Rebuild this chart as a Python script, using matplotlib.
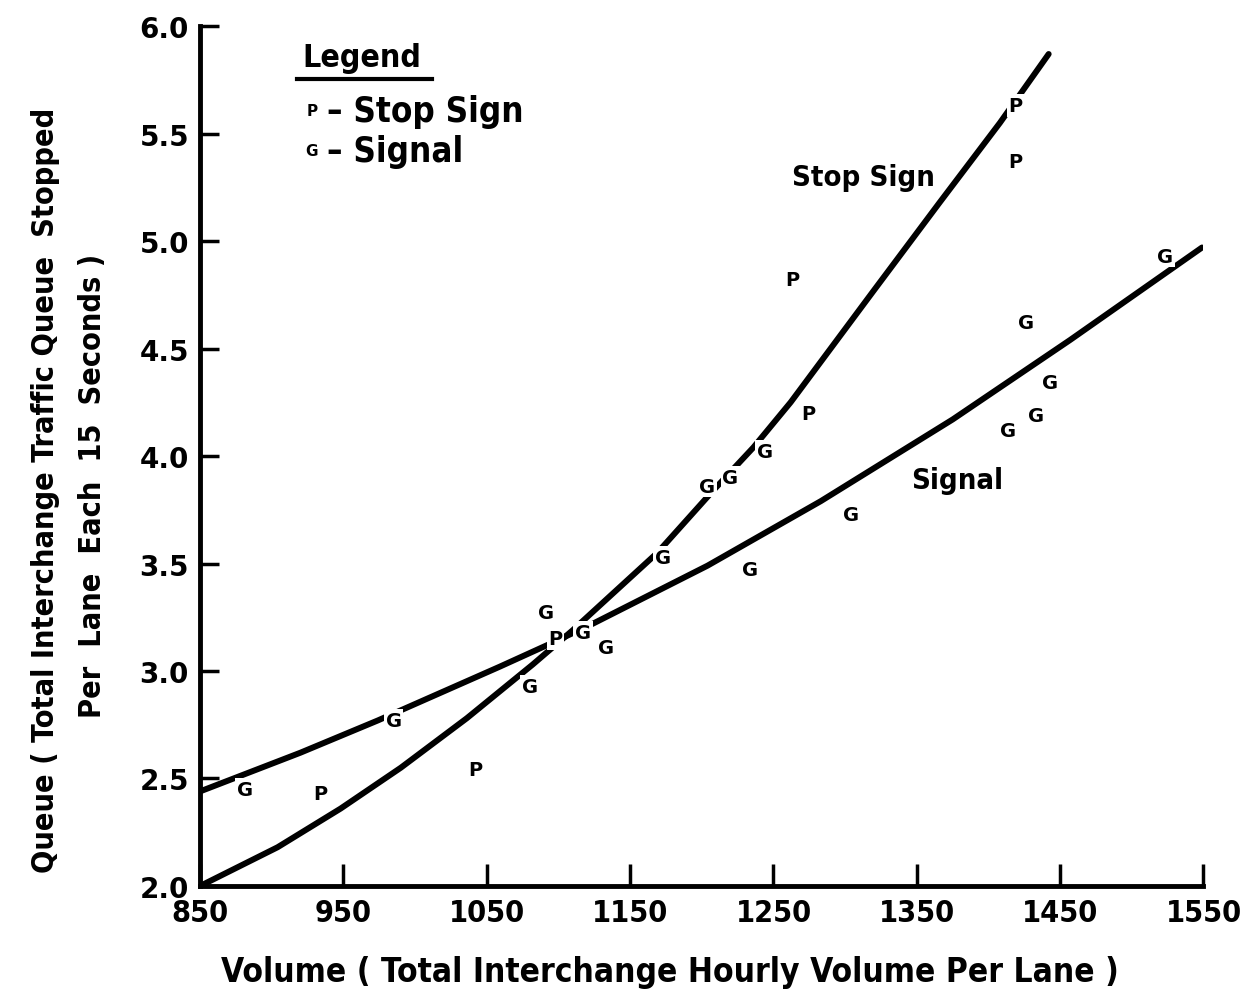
import numpy as np
import matplotlib.pyplot as plt

# Data
stop_x = [934, 1042, 1098, 1263, 1274, 1419, 1419]
stop_y = [2.43, 2.54, 3.15, 4.82, 4.20, 5.37, 5.63]

sig_x = [881, 985, 1080, 1091, 1117, 1133, 1173, 1204, 1220, 1244, 1234, 1304, 1414, 1433, 1443, 1426, 1523]
sig_y = [2.45, 2.77, 2.93, 3.27, 3.18, 3.11, 3.53, 3.86, 3.90, 4.02, 3.47, 3.73, 4.12, 4.19, 4.34, 4.62, 4.93]

# fitted curves as drawn
stop_curve_x = [850, 904, 948, 990, 1036, 1082, 1110, 1169, 1208, 1236, 1262, 1320, 1366, 1408, 1442]
stop_curve_y = [2.0, 2.18, 2.36, 2.55, 2.78, 3.03, 3.19, 3.55, 3.84, 4.04, 4.25, 4.77, 5.18, 5.55, 5.87]
sig_curve_x = [850, 920, 974, 1059, 1092, 1124, 1204, 1283, 1375, 1457, 1549]
sig_curve_y = [2.44, 2.62, 2.77, 3.02, 3.12, 3.22, 3.49, 3.79, 4.17, 4.54, 4.97]

x_ticks = [850, 950, 1050, 1150, 1250, 1350, 1450, 1550]
y_ticks = [2.0, 2.5, 3.0, 3.5, 4.0, 4.5, 5.0, 5.5, 6.0]

cond = dict(fontweight='bold', fontstretch='condensed')

fig = plt.figure(figsize=(12.51, 10.03), dpi=100)
ax = fig.add_axes([0.160, 0.1157, 0.802, 0.8573])

ax.plot(stop_curve_x, stop_curve_y, color='black', lw=4.3, solid_capstyle='round',
        solid_joinstyle='round', zorder=2)
ax.plot(sig_curve_x, sig_curve_y, color='black', lw=4.3, solid_capstyle='round',
        solid_joinstyle='round', zorder=2)

for x, y in zip(sig_x, sig_y):
    ax.text(x, y, 'G', ha='center', va='center', fontsize=14, fontweight='bold',
            zorder=3, bbox=dict(facecolor='white', edgecolor='none', pad=1.2))
for x, y in zip(stop_x, stop_y):
    ax.text(x, y, 'P', ha='center', va='center', fontsize=14, fontweight='bold',
            zorder=3, bbox=dict(facecolor='white', edgecolor='none', pad=1.2))

ax.text(1313, 5.30, 'Stop Sign', ha='center', va='center', fontsize=21, **cond)
ax.text(1378, 3.89, 'Signal', ha='center', va='center', fontsize=21, **cond)

ax.set_xlim(850, 1550)
ax.set_ylim(2.0, 6.0)
ax.set_xticks(x_ticks)
ax.set_yticks(y_ticks)
ax.set_xticklabels([str(v) for v in x_ticks], fontsize=22, **cond)
ax.set_yticklabels([f'{v:.1f}' for v in y_ticks], fontsize=20, fontweight='bold')
ax.tick_params(axis='x', direction='in', length=16, width=2.5, pad=9)
ax.tick_params(axis='y', direction='in', length=14, width=2.5, pad=8)

for s in ['top', 'right']:
    ax.spines[s].set_visible(False)
for s in ['left', 'bottom']:
    ax.spines[s].set_linewidth(3.5)

fig.text(0.5356, 0.030, 'Volume ( Total Interchange Hourly Volume Per Lane )', ha='center', va='center',
         fontsize=24, **cond)
fig.text(0.036, 0.511, 'Queue ( Total Interchange Traffic Queue  Stopped', ha='center', va='center',
         rotation=90, fontsize=22, **cond)
fig.text(0.074, 0.516, 'Per  Lane  Each  15  Seconds )', ha='center', va='center',
         rotation=90, fontsize=22, **cond)

# legend block
fig.text(362 / 1251, 1 - 58 / 1003, 'Legend', ha='center', va='center', fontsize=23, **cond)
fig.add_artist(plt.Line2D([297 / 1251, 432 / 1251], [1 - 80 / 1003, 1 - 80 / 1003],
                          color='black', lw=3))
fig.text(312 / 1251, 1 - 112 / 1003, 'P', ha='center', va='center', fontsize=11, fontweight='bold')
fig.text(327 / 1251, 1 - 112 / 1003, '\u2013 Stop Sign', ha='left', va='center', fontsize=25, **cond)
fig.text(312 / 1251, 1 - 152 / 1003, 'G', ha='center', va='center', fontsize=11, fontweight='bold')
fig.text(327 / 1251, 1 - 152 / 1003, '\u2013 Signal', ha='left', va='center', fontsize=25, **cond)

fig.savefig('out.png', dpi=100, facecolor='white')
